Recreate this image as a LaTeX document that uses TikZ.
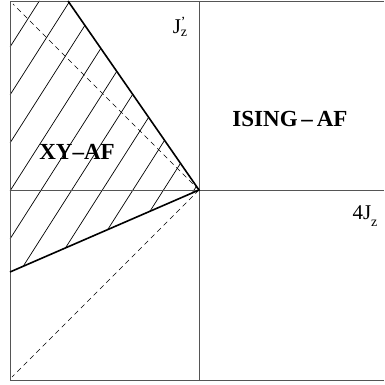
\documentclass[tikz,border=0pt]{standalone}
\usepackage{fontspec}
\setmainfont{Liberation Serif}
\usepackage{tikz}
\definecolor{axisgray}{RGB}{85, 85, 85}
\newcommand{\subsz}[1]{\raisebox{-0.3em}{\fontsize{14}{16}\selectfont #1}}
\newcommand{\primesub}[1]{\raisebox{-3pt}{\fontsize{14}{16}\selectfont\shortstack[l]{’\\#1}}}

\begin{document}
\begin{tikzpicture}[
    x=1pt, y=1pt,
    frame/.style={draw=axisgray,line width=0.9pt},
    border/.style={draw=black,line width=1.6pt},
    guide/.style={draw=black,line width=0.7pt,dash pattern=on 5pt off 4pt},
    hatchline/.style={draw=black,line width=0.7pt},
    phase/.style={font=\fontsize{23}{26}\selectfont\bfseries},
    axlabel/.style={font=\fontsize{21}{24}\selectfont}
]
\useasboundingbox (-199,-195) rectangle (185,190);
\coordinate (O)  at (0,0);
\coordinate (tl) at (-189,189);
\coordinate (bl) at (-189,-190);
\coordinate (tr) at (185,189);
\coordinate (br) at (185,-190);
\coordinate (xl) at (-189,0);
\coordinate (xr) at (185,0);
\coordinate (yt) at (0,189);
\coordinate (yb) at (0,-190);
\coordinate (up) at (-131,189);
\coordinate (lo) at (-189,-82);

% hatched XY region
\begin{scope}
  \clip (tl) -- (up) -- (O) -- (lo) -- cycle;
  \foreach \k in {0,...,10}
    \draw[hatchline] (-189,143-48*\k) -- ++(200,314);
\end{scope}

% frame and axes
\draw[frame] (tr) -- (tl) -- (bl) -- (br);
\draw[frame] (xl) -- (xr);
\draw[frame] (yt) -- (yb);

% phase boundaries
\draw[border] (up) -- (O) -- (lo);
\draw[guide] (O) -- (-186,186);
\draw[guide] (O) -- (-187,-187);

\node[axlabel] (jp) at (-19,163) {J\primesub{z}};
\node[axlabel] (jz) at (166,-26) {4J\subsz{z}};
\node[phase] (ising) at (91,71) {ISING\,–\,AF};
\node[phase] (xy) at (-122,38) {XY–AF};
\end{tikzpicture}
\end{document}
